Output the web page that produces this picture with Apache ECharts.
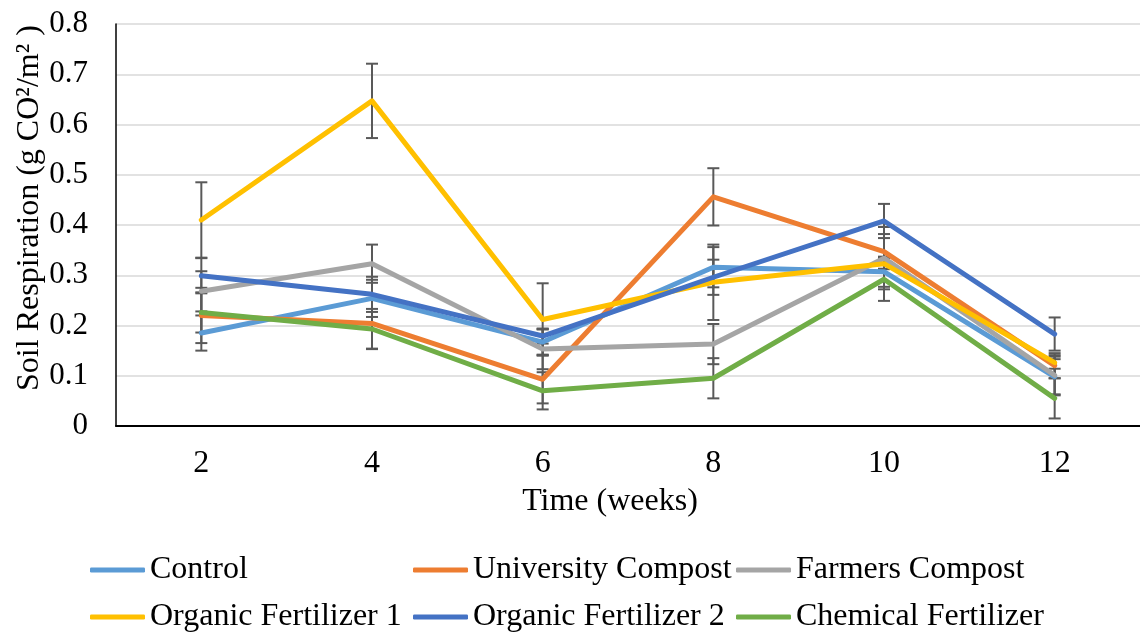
<!DOCTYPE html>
<html>
<head>
<meta charset="utf-8">
<script src="https://cdn.jsdelivr.net/npm/echarts@6/dist/echarts.min.js"></script>
<style>
html,body{margin:0;padding:0;background:#fff;}
#c{width:1140px;height:637px;}
</style>
</head>
<body>
<div id="c"></div>
<script>
var categories = ['2', '4', '6', '8', '10', '12'];
var seriesNames = ['Control', 'University Compost', 'Farmers Compost', 'Organic Fertilizer 1', 'Organic Fertilizer 2', 'Chemical Fertilizer'];
var control = [0.185, 0.254, 0.167, 0.316, 0.307, 0.098];
var universityCompost = [0.220, 0.204, 0.093, 0.456, 0.347, 0.120];
var farmersCompost = [0.268, 0.323, 0.153, 0.163, 0.334, 0.101];
var organicFertilizer1 = [0.410, 0.647, 0.212, 0.286, 0.323, 0.126];
var organicFertilizer2 = [0.299, 0.262, 0.179, 0.296, 0.408, 0.183];
var chemicalFertilizer = [0.226, 0.193, 0.070, 0.095, 0.292, 0.055];

var controlErr = [0.035, 0.037, 0.025, 0.040, 0.030, 0.035];
var universityCompostErr = [0.055, 0.050, 0.048, 0.057, 0.035, 0.025];
var farmersCompostErr = [0.040, 0.038, 0.040, 0.040, 0.062, 0.040];
var organicFertilizer1Err = [0.075, 0.074, 0.072, 0.075, 0.010, 0.012];
var organicFertilizer2Err = [0.035, 0.035, 0.015, 0.035, 0.034, 0.033];
var chemicalFertilizerErr = [0.040, 0.040, 0.037, 0.040, 0.043, 0.040];

var colors = ['#5B9BD5', '#ED7D31', '#A5A5A5', '#FFC000', '#4472C4', '#70AD47'];
var yTicks = { min: 0, max: 0.8, interval: 0.1 };

var values = [control, universityCompost, farmersCompost, organicFertilizer1, organicFertilizer2, chemicalFertilizer];
var errs = [controlErr, universityCompostErr, farmersCompostErr, organicFertilizer1Err, organicFertilizer2Err, chemicalFertilizerErr];

var FONT = '"Liberation Serif", "Times New Roman", serif';

var series = [];
values.forEach(function (vals, si) {
  var data = vals.map(function (v, i) { return [i, v - errs[si][i], v + errs[si][i]]; });
  series.push({
    type: 'custom',
    name: seriesNames[si] + ' error',
    z: 1,
    silent: true,
    data: data,
    encode: { x: 0, y: [1, 2] },
    renderItem: function (params, api) {
      var lo = api.coord([api.value(0), api.value(1)]);
      var hi = api.coord([api.value(0), api.value(2)]);
      var hw = 6;
      var st = { stroke: '#595959', lineWidth: 2, fill: null };
      return {
        type: 'group',
        children: [
          { type: 'line', shape: { x1: lo[0], y1: lo[1], x2: hi[0], y2: hi[1] }, style: st },
          { type: 'line', shape: { x1: lo[0] - hw, y1: lo[1], x2: lo[0] + hw, y2: lo[1] }, style: st },
          { type: 'line', shape: { x1: hi[0] - hw, y1: hi[1], x2: hi[0] + hw, y2: hi[1] }, style: st }
        ]
      };
    }
  });
});
values.forEach(function (vals, si) {
  series.push({
    type: 'line',
    name: seriesNames[si],
    data: vals,
    z: 3,
    symbol: 'none',
    silent: true,
    color: colors[si],
    lineStyle: { width: 5, color: colors[si], cap: 'round', join: 'round' }
  });
});

var legendLefts = [90, 413, 736];
var legendTops = [554, 601];
var legends = seriesNames.map(function (n, i) {
  return {
    data: [n],
    left: legendLefts[i % 3],
    top: legendTops[Math.floor(i / 3)],
    padding: 0,
    itemWidth: 55,
    itemHeight: 5,
    icon: 'roundRect',
    selectedMode: false,
    textStyle: { fontFamily: FONT, fontSize: 32, color: '#000', lineHeight: 32 }
  };
});

var chart = echarts.init(document.getElementById('c'), null, { renderer: 'canvas' });
chart.setOption({
  animation: false,
  backgroundColor: '#fff',
  color: colors,
  grid: { left: 116, top: 24, right: -5, bottom: 211, containLabel: false },
  legend: legends,
  xAxis: {
    type: 'category',
    data: categories,
    boundaryGap: true,
    axisLine: { show: true, lineStyle: { color: '#000', width: 2 } },
    axisTick: { show: false },
    axisLabel: { fontFamily: FONT, fontSize: 32, color: '#000', margin: 22 }
  },
  yAxis: {
    type: 'value',
    min: yTicks.min,
    max: yTicks.max,
    interval: yTicks.interval,
    axisLine: { show: true, lineStyle: { color: '#000', width: 1.5 } },
    axisTick: { show: false },
    axisLabel: { fontFamily: FONT, fontSize: 31, color: '#000', margin: 28 },
    splitLine: { show: true, lineStyle: { color: '#D9D9D9', width: 1.5 } }
  },
  graphic: [{
    type: 'text',
    x: 30,
    y: 208,
    rotation: Math.PI / 2,
    style: {
      text: 'Soil Respiration (g CO²/m² )',
      fontFamily: FONT,
      fontSize: 32,
      fill: '#000',
      align: 'center',
      verticalAlign: 'middle'
    }
  }, {
    type: 'text',
    x: 610,
    y: 502,
    style: {
      text: 'Time (weeks)',
      fontFamily: FONT,
      fontSize: 32,
      fill: '#000',
      align: 'center',
      verticalAlign: 'middle'
    }
  }],
  series: series
});
</script>
</body>
</html>
